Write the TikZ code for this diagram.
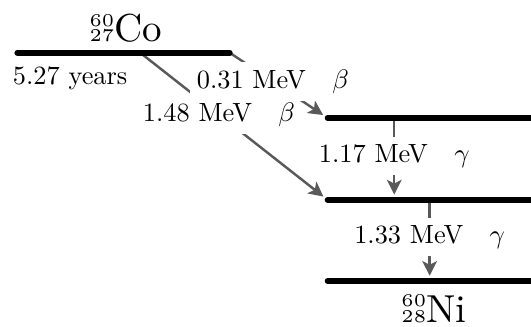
\documentclass[tikz,border=0pt]{standalone}
\usepackage{graphicx}
\usetikzlibrary{arrows.meta}
\newcommand{\nuclide}[3]{\scalebox{1.48}{\rlap{\raisebox{4.2pt}{\fontsize{5}{6}\selectfont #1}}{\fontsize{5}{6}\selectfont #2}#3}}
\begin{document}
\begin{tikzpicture}[%
font=\fontsize{10.8}{13}\selectfont,
% common options for the energy levels:
level/.style = {line width=2.4pt, line cap=round},
% common options for the decay arrows:
decay/.style = {draw=black!65, line width=1pt,
            -{Stealth[length=6pt,width=6pt,inset=1.5pt]}, shorten >=2.2pt},
% labels sitting on the arrows:
energy/.style = {fill=white, inner sep=3pt}]
\useasboundingbox (0,0) rectangle (7.65,-4.71);
\coordinate (CoW) at (0.25,-0.76);
\coordinate (CoE) at (3.31,-0.76);
\coordinate (CoB) at (2.02,-0.76);
\coordinate (L1W) at (4.72,-1.70);
\coordinate (L1E) at (7.90,-1.70);
\coordinate (L1G) at (5.68,-1.70);
\coordinate (L2W) at (4.72,-2.88);
\coordinate (L2E) at (7.90,-2.88);
\coordinate (L2A) at (5.68,-2.88);
\coordinate (L2G) at (6.19,-2.88);
\coordinate (L3W) at (4.72,-4.05);
\coordinate (L3E) at (7.90,-4.05);
\coordinate (L3A) at (6.19,-4.05);
\draw[decay] (CoB) to node[energy,pos=0.42] (B2) {1.48 MeV\quad$\beta$} (L2W);
\draw[decay] (CoE) to node[energy,pos=0.44] (B1) {0.31 MeV\quad$\beta$} (L1W);
\draw[decay] (L1G) to node[energy,pos=0.46] (G1) {1.17 MeV\quad$\gamma$} (L2A);
\draw[decay] (L2G) to node[energy,pos=0.46] (G2) {1.33 MeV\quad$\gamma$} (L3A);
\draw[level] (CoW) -- (CoE);
\draw[level] (L1W) -- (L1E);
\draw[level] (L2W) -- (L2E);
\draw[level] (L3W) -- (L3E);
\node[anchor=base,inner sep=0] (Co) at (1.81,-0.605) {\nuclide{60}{27}{Co}};
\node[anchor=base,inner sep=0] (Ni) at (6.25,-4.64) {\nuclide{60}{28}{Ni}};
\node[anchor=north west,inner sep=0] (T) at (0.18,-0.96) {5.27 years};
\end{tikzpicture}
\end{document}
